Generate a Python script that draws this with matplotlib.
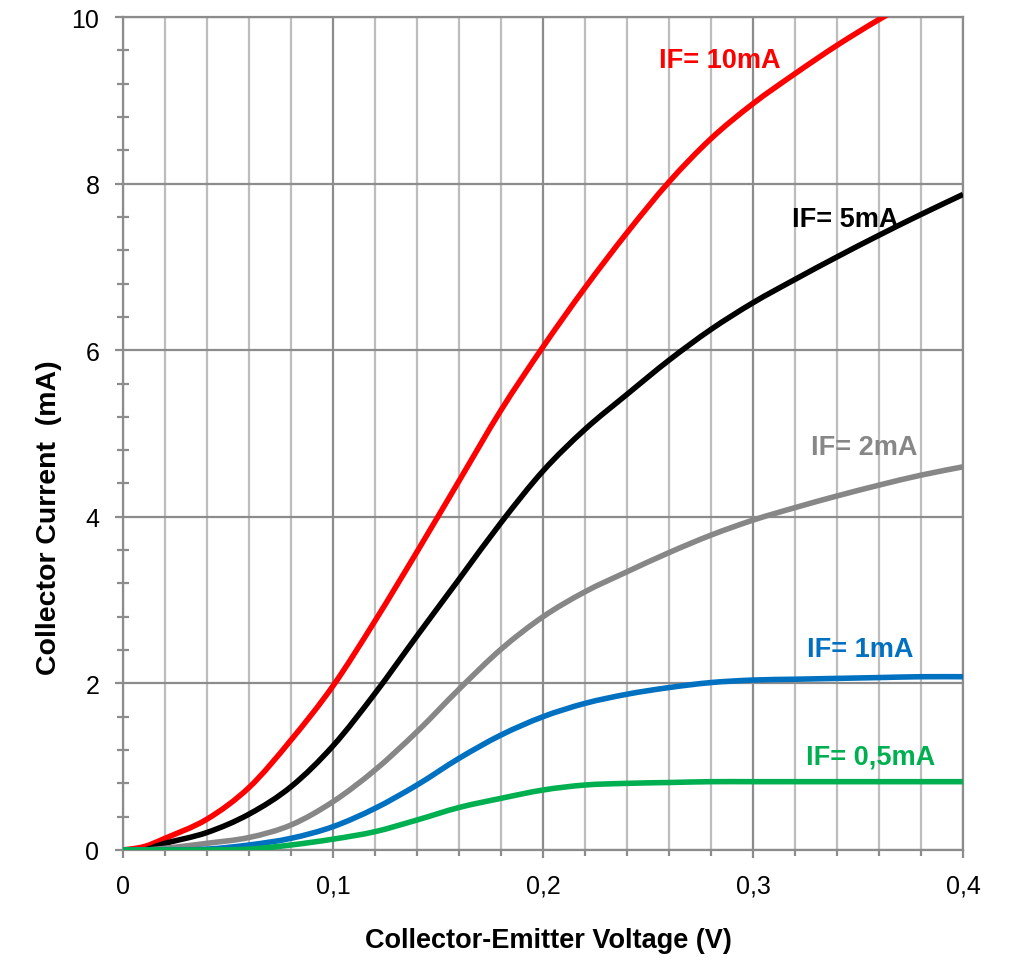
import numpy as np
import matplotlib
matplotlib.use('Agg')
import matplotlib.pyplot as plt
from matplotlib.path import Path
from matplotlib.patches import PathPatch
from matplotlib.ticker import MultipleLocator, FuncFormatter

plt.rcParams['font.family'] = ['Liberation Sans', 'DejaVu Sans']

# Collector-emitter voltage (V) and collector current (mA) per forward current
vce = [0, 0.01, 0.02, 0.04, 0.06, 0.08, 0.10, 0.12, 0.14, 0.16, 0.18, 0.20,
       0.22, 0.24, 0.26, 0.28, 0.30, 0.32, 0.34, 0.36, 0.38, 0.40]

ic_10ma = [0, 0.04, 0.14, 0.37, 0.75, 1.32, 1.97, 2.75, 3.58, 4.43, 5.28, 6.04,
           6.75, 7.41, 8.02, 8.54, 8.96, 9.32, 9.66, 9.97, 10.25, 10.5]
ic_5ma = [0, 0.0, 0.08, 0.21, 0.43, 0.76, 1.25, 1.88, 2.57, 3.25, 3.93, 4.55,
          5.05, 5.47, 5.88, 6.25, 6.57, 6.85, 7.12, 7.38, 7.63, 7.87]
ic_2ma = [0, 0.0, 0.02, 0.08, 0.15, 0.3, 0.58, 0.96, 1.42, 1.93, 2.41, 2.8,
          3.1, 3.34, 3.57, 3.78, 3.96, 4.11, 4.25, 4.38, 4.5, 4.6]
ic_1ma = [0, 0.0, 0.0, 0.01, 0.06, 0.14, 0.28, 0.5, 0.78, 1.1, 1.38, 1.6,
          1.76, 1.87, 1.95, 2.01, 2.04, 2.05, 2.06, 2.07, 2.08, 2.08]
ic_05ma = [0, 0.0, 0.0, 0.0, 0.01, 0.06, 0.13, 0.22, 0.36, 0.51, 0.62, 0.72,
           0.78, 0.80, 0.81, 0.82, 0.82, 0.82, 0.82, 0.82, 0.82, 0.82]

series = [
    (ic_10ma, '#ff0000', 'IF= 10mA', 0.284, 9.48),
    (ic_5ma, '#000000', 'IF= 5mA', 0.344, 7.57),
    (ic_2ma, '#878787', 'IF= 2mA', 0.353, 4.84),
    (ic_1ma, '#0070c0', 'IF= 1mA', 0.351, 2.41),
    (ic_05ma, '#00b050', 'IF= 0,5mA', 0.356, 1.12),
]


def smooth_path(xs, ys):
    # Excel-like smoothed line: cubic Bezier through every point
    p = np.column_stack([xs, ys])
    verts = [p[0]]
    codes = [Path.MOVETO]
    n = len(p)
    for i in range(n - 1):
        p0 = p[max(i - 1, 0)]
        p1 = p[i]
        p2 = p[i + 1]
        p3 = p[min(i + 2, n - 1)]
        verts += [p1 + (p2 - p0) / 6.0, p2 - (p3 - p1) / 6.0, p2]
        codes += [Path.CURVE4] * 3
    return Path(verts, codes)


fig = plt.figure(figsize=(10.09, 9.70), dpi=100)
ax = fig.add_axes([0.1219, 0.1227, 0.8325, 0.8587])

ax.xaxis.set_major_locator(MultipleLocator(0.1))
ax.xaxis.set_minor_locator(MultipleLocator(0.02))
ax.yaxis.set_major_locator(MultipleLocator(2))
ax.yaxis.set_minor_locator(MultipleLocator(0.4))
ax.grid(True, which='major', axis='both', color='#8c8c8c', lw=1.6)
ax.grid(True, which='minor', axis='x', color='#bdbdbd', lw=1.6)
ax.set_axisbelow(True)

for ys, col, lab, tx, ty in series:
    patch = PathPatch(smooth_path(vce, ys), facecolor='none', edgecolor=col,
                      lw=4.0, capstyle='butt', joinstyle='round', zorder=3)
    ax.add_patch(patch)
    ax.text(tx, ty, lab, color=col, fontsize=19.5, fontweight='bold',
            ha='center', va='center', zorder=4)

ax.set_xlim(0, 0.4)
ax.set_ylim(0, 10)

fmt = FuncFormatter(lambda v, p: ('%g' % round(v, 3)).replace('.', ','))
ax.xaxis.set_major_formatter(fmt)
ax.yaxis.set_major_formatter(fmt)

for s in ax.spines.values():
    s.set_color('#8c8c8c')
    s.set_linewidth(1.6)
ax.tick_params(which='major', length=6, width=1.6, color='#8c8c8c',
               labelsize=18, pad=11)
ax.tick_params(axis='x', which='minor', length=4.5, width=1.6, color='#8c8c8c')
ax.tick_params(axis='y', which='minor', direction='inout', length=8,
               width=1.6, color='#8c8c8c')

fig.text(0.544, 0.016, 'Collector-Emitter Voltage (V)', fontsize=19.5,
         fontweight='bold', ha='center', va='bottom')
fig.text(0.049, 0.466, 'Collector Current  (mA)', fontsize=20.5,
         fontweight='bold', ha='center', va='center', rotation=90)

fig.savefig('out.png', dpi=100)
